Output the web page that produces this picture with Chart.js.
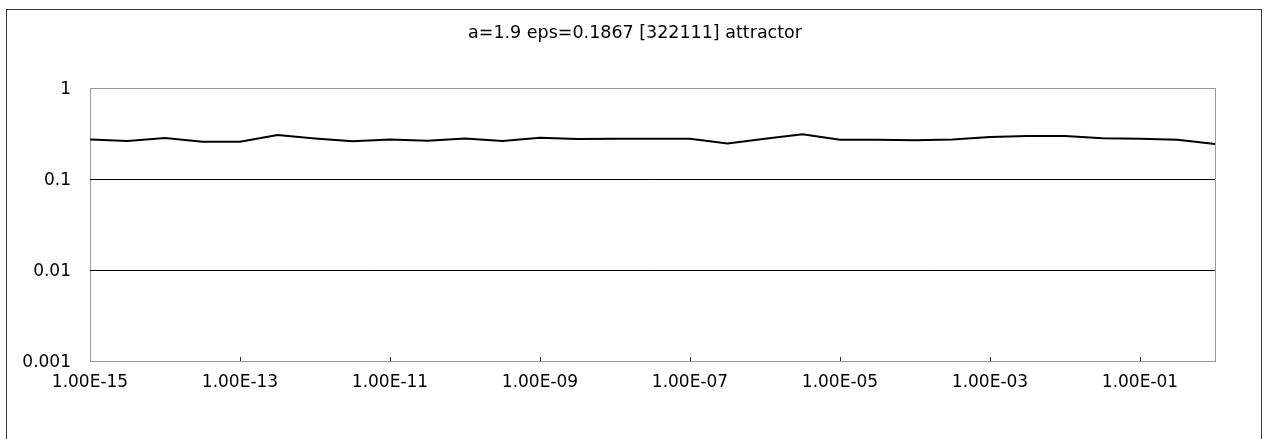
<!DOCTYPE html>
<html>
<head>
<meta charset="utf-8">
<script src="https://cdn.jsdelivr.net/npm/chart.js@4"></script>
<style>
  html, body { margin: 0; padding: 0; background: #fff; }
  #wrap { position: relative; width: 1264px; height: 439px; }
  canvas { display: block; }
</style>
</head>
<body>
<div id="wrap"><canvas id="c" width="1264" height="439"></canvas></div>
<script>
// ---- data ----
const titleText = 'a=1.9 eps=0.1867 [322111] attractor';

const categories = [
  '1.00E-15','3.16E-15','1.00E-14','3.16E-14','1.00E-13','3.16E-13','1.00E-12','3.16E-12',
  '1.00E-11','3.16E-11','1.00E-10','3.16E-10','1.00E-09','3.16E-09','1.00E-08','3.16E-08',
  '1.00E-07','3.16E-07','1.00E-06','3.16E-06','1.00E-05','3.16E-05','1.00E-04','3.16E-04',
  '1.00E-03','3.16E-03','1.00E-02','3.16E-02','1.00E-01','3.16E-01','1.00E+00'
];

const attractorValues = [
  0.272, 0.261, 0.282, 0.257, 0.257, 0.304, 0.279, 0.260,
  0.272, 0.264, 0.279, 0.261, 0.284, 0.275, 0.277, 0.277,
  0.277, 0.246, 0.277, 0.310, 0.270, 0.270, 0.266, 0.272,
  0.289, 0.296, 0.296, 0.280, 0.277, 0.270, 0.243
];

const yTickValues = [0.001, 0.01, 0.1, 1];
const yTickLabels = ['0.001', '0.01', '0.1', '1'];
const xLabelEvery = 4;

// ---- decorations ----
const decor = {
  id: 'decor',
  beforeDraw(chart) {
    const ctx = chart.ctx;
    ctx.save();
    ctx.fillStyle = '#fff';
    ctx.fillRect(0, 0, chart.width, chart.height);
    // outer frame
    ctx.strokeStyle = '#3a3a3a';
    ctx.lineWidth = 1;
    ctx.strokeRect(6.5, 9.5, 1255, 520);
    ctx.restore();
  },
  afterDraw(chart) {
    const ctx = chart.ctx;
    const a = chart.chartArea;
    ctx.save();
    // plot area border (dotted)
    ctx.strokeStyle = '#333';
    ctx.lineWidth = 1;
    ctx.setLineDash([1, 1]);
    ctx.strokeRect(Math.round(a.left) + 0.5, Math.round(a.top) + 0.5,
                   Math.round(a.right - a.left), Math.round(a.bottom - a.top));
    ctx.setLineDash([]);
    // inside tick marks on x axis
    const xs = chart.scales.x;
    ctx.strokeStyle = '#222';
    for (let i = xLabelEvery; i < categories.length - 1; i += xLabelEvery) {
      const px = Math.round(xs.getPixelForValue(i)) + 0.5;
      ctx.beginPath();
      ctx.moveTo(px, a.bottom);
      ctx.lineTo(px, a.bottom - 4);
      ctx.stroke();
    }
    // title
    ctx.fillStyle = '#000';
    ctx.font = '17.5px "DejaVu Sans"';
    ctx.textAlign = 'center';
    ctx.textBaseline = 'middle';
    ctx.fillText(titleText, 635, 33);
    ctx.restore();
  }
};

new Chart(document.getElementById('c'), {
  type: 'line',
  data: {
    labels: categories,
    datasets: [{
      label: 'attractor',
      data: attractorValues,
      borderColor: '#000',
      borderWidth: 2,
      pointRadius: 0,
      tension: 0,
      fill: false
    }]
  },
  options: {
    responsive: false,
    animation: false,
    devicePixelRatio: 1,
    layout: { padding: { left: 0, right: 49, top: 88, bottom: 0 } },
    plugins: {
      legend: { display: false },
      title: { display: false },
      tooltip: { enabled: false }
    },
    scales: {
      x: {
        type: 'category',
        offset: false,
        grid: { display: false, drawTicks: false },
        border: { display: false },
        afterFit(s) { s.height = 78; },
        ticks: {
          autoSkip: false,
          maxRotation: 0,
          minRotation: 0,
          padding: 11,
          color: '#000',
          font: { family: 'DejaVu Sans', size: 17 },
          callback(v, i) { return i % xLabelEvery === 0 ? categories[i] : ''; }
        }
      },
      y: {
        type: 'logarithmic',
        min: 0.001,
        max: 1,
        afterFit(s) { s.width = 90; },
        afterBuildTicks(s) { s.ticks = yTickValues.map(v => ({ value: v })); },
        grid: {
          drawTicks: false,
          color(c) {
            const v = c.tick && c.tick.value;
            return (v === 0.1 || v === 0.01) ? '#000' : 'rgba(0,0,0,0)';
          },
          lineWidth: 1
        },
        border: { display: false },
        ticks: {
          padding: 19,
          labelOffset: 2,
          color: '#000',
          font: { family: 'DejaVu Sans', size: 17 },
          callback(v) {
            const i = yTickValues.indexOf(v);
            return i >= 0 ? yTickLabels[i] : '';
          }
        }
      }
    }
  },
  plugins: [decor]
});
</script>
</body>
</html>
